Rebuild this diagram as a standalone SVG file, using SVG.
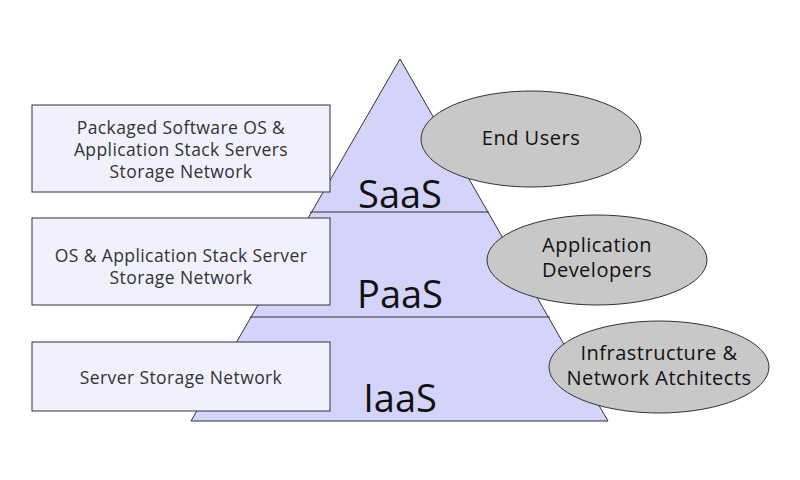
<svg xmlns="http://www.w3.org/2000/svg" width="800" height="480" viewBox="0 0 800 480">
<style>
.tier{fill:#d4d4fb;stroke:#333;stroke-width:1}
.box{fill:#f1f1fd;stroke:#333;stroke-width:1}
.ell{fill:#c8c8c8;stroke:#333;stroke-width:1}
.bt{font-family:"Open Sans","Liberation Sans",sans-serif;font-size:17.5px;letter-spacing:0.4px;fill:#333;text-anchor:middle}
.et{font-family:"Open Sans","Liberation Sans",sans-serif;font-size:20px;letter-spacing:0.5px;fill:#111;text-anchor:middle}
.big{font-family:"Open Sans","Liberation Sans",sans-serif;font-size:38px;fill:#111;text-anchor:middle}
</style>
<rect width="800" height="480" fill="#fff"/>
<g id="pyramid">
<polygon class="tier" points="400,59 608,421 191,421"/>
<line x1="310" y1="212" x2="489" y2="212" stroke="#333"/>
<line x1="250" y1="317" x2="550" y2="317" stroke="#333"/>
</g>
<g id="saas"><text class="big" x="400" y="208">SaaS</text></g>
<g id="paas"><text class="big" x="400" y="308">PaaS</text></g>
<g id="iaas"><text class="big" x="400" y="412">IaaS</text></g>
<g id="box-saas">
<rect class="box" x="32" y="105" width="298" height="87"/>
<text class="bt" x="181" y="134">Packaged Software OS &amp;</text>
<text class="bt" x="181" y="156">Application Stack Servers</text>
<text class="bt" x="181" y="178">Storage Network</text>
</g>
<g id="box-paas">
<rect class="box" x="32" y="218" width="298" height="87"/>
<text class="bt" x="181" y="262">OS &amp; Application Stack Server</text>
<text class="bt" x="181" y="284">Storage Network</text>
</g>
<g id="box-iaas">
<rect class="box" x="32" y="342" width="298" height="69"/>
<text class="bt" x="181" y="384">Server Storage Network</text>
</g>
<g id="end-users">
<ellipse class="ell" cx="531" cy="139" rx="110" ry="48"/>
<text class="et" x="531" y="145">End Users</text>
</g>
<g id="app-devs">
<ellipse class="ell" cx="597" cy="260" rx="110" ry="45"/>
<text class="et" x="597" y="252">Application</text>
<text class="et" x="597" y="277">Developers</text>
</g>
<g id="infra">
<ellipse class="ell" cx="659" cy="367" rx="110" ry="46"/>
<text class="et" x="659" y="360">Infrastructure &amp;</text>
<text class="et" x="659" y="385">Network Atchitects</text>
</g>
<g id="connectors"></g>
</svg>
